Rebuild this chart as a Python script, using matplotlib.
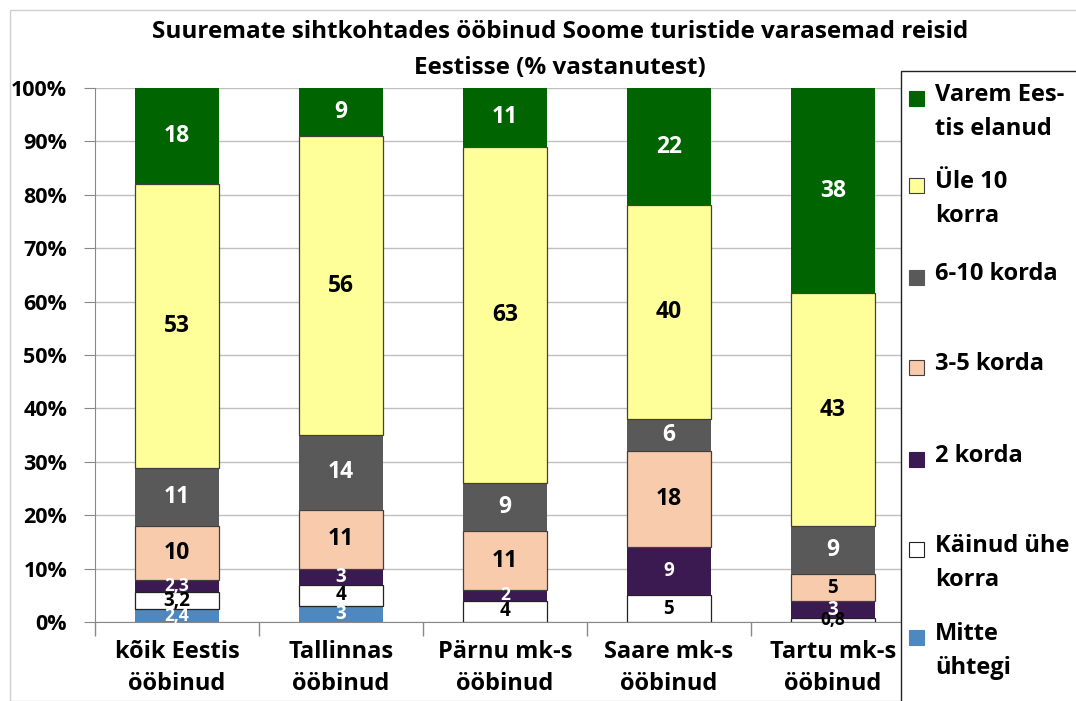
import matplotlib.pyplot as plt
import numpy as np
from matplotlib.patches import Rectangle

plt.rcParams['font.family'] = ['Open Sans', 'DejaVu Sans']
plt.rcParams['font.weight'] = 'bold'

categories = ['kõik Eestis\nööbinud', 'Tallinnas\nööbinud', 'Pärnu mk-s\nööbinud',
              'Saare mk-s\nööbinud', 'Tartu mk-s\nööbinud']

# bottom to top
series = ['Mitte\nühtegi', 'Käinud ühe\nkorra', '2 korda', '3-5 korda',
          '6-10 korda', 'Üle 10\nkorra', 'Varem Ees-\ntis elanud']
mitte = [2.4, 3, 0, 0, 0]
kainud = [3.2, 4, 4, 5, 0.8]
kaks = [2.3, 3, 2, 9, 3]
kolm_viis = [10, 11, 11, 18, 5]
kuus_kumme = [11, 14, 9, 6, 9]
ule_kumne = [53, 56, 63, 40, 43]
varem = [18, 9, 11, 22, 38]

colors = ['#4F88BE', '#FFFFFF', '#3B1A51', '#F8CBAD', '#595959', '#FFFF99', '#006400']
edges = [None, '#222222', None, '#404040', None, '#404040', None]
text_colors = ['white', 'black', 'white', 'black', 'white', 'black', 'white']

data = np.array([mitte, kainud, kaks, kolm_viis, kuus_kumme, ule_kumne, varem], dtype=float)
pct = data / data.sum(axis=0) * 100

W, H = 1076, 701
fig = plt.figure(figsize=(W / 100, H / 100), dpi=100)
ax = fig.add_axes([95 / W, 1 - 622 / H, 820 / W, 534 / H])

x = np.arange(len(categories))
bottom = np.zeros(len(categories))
for i, name in enumerate(series):
    ec = edges[i] if edges[i] else colors[i]
    ax.bar(x, pct[i], 0.51, bottom=bottom, color=colors[i], edgecolor=ec,
           linewidth=0.9 if edges[i] else 0, zorder=3)
    for j in range(len(categories)):
        v = data[i, j]
        if v == 0:
            continue
        if pct[i, j] >= 5.5 and i != 2:
            fs = 16.5
        elif pct[i, j] >= 3:
            fs = 13.5
        else:
            fs = 12.5
        txt = ('%g' % v).replace('.', ',')
        ax.text(x[j], bottom[j] + pct[i, j] / 2, txt, ha='center', va='center',
                color=text_colors[i], fontsize=fs, fontweight='bold', zorder=5)
    bottom += pct[i]

ax.set_xlim(-0.5, len(categories) - 0.5)
ax.set_ylim(0, 100)
ax.set_yticks(np.arange(0, 101, 10))
ax.set_yticklabels(['%d%%' % v for v in range(0, 101, 10)], fontsize=15.5, fontweight='bold')
ax.yaxis.grid(True, color='#BFBFBF', linewidth=1, zorder=0)
ax.set_xticks(x)
ax.set_xticklabels(categories, fontsize=17, fontweight='bold', linespacing=1.45)
ax.tick_params(axis='x', length=0, pad=13)
ax.tick_params(axis='y', length=8, color='#888888', pad=12)
ax.set_xticks(np.arange(-0.5, len(categories), 1), minor=True)
ax.tick_params(axis='x', which='minor', length=10, color='#888888', width=1)
for s in ['top', 'right']:
    ax.spines[s].set_visible(False)
ax.spines['left'].set_color('#888888')
ax.spines['bottom'].set_color('#888888')

fig.text(560 / W, 1 - 32 / H, 'Suuremate sihtkohtades ööbinud Soome turistide varasemad reisid',
         ha='center', va='center', fontsize=17.5, fontweight='bold')
fig.text(560 / W, 1 - 68 / H, 'Eestisse (% vastanutest)',
         ha='center', va='center', fontsize=17.5, fontweight='bold')

# outer chart border
fig.add_artist(Rectangle((10 / W, 0), 1, 1 - 10 / H, transform=fig.transFigure,
                         fill=False, edgecolor='#D0D0D0', linewidth=1))

# legend box
fig.add_artist(Rectangle((901 / W, -0.01), 1, 1 - 71 / H + 0.01, transform=fig.transFigure,
                         facecolor='white', edgecolor='#222222', linewidth=1, zorder=10))
leg_y = [638, 550, 460, 368, 278, 186, 99]
for i, name in enumerate(series):
    yc = leg_y[i]
    fig.add_artist(Rectangle((909 / W, 1 - (yc + 7) / H), 15 / W, 15 / H,
                             transform=fig.transFigure, facecolor=colors[i],
                             edgecolor=edges[i] if edges[i] else colors[i],
                             linewidth=0.8, zorder=11))
    fig.text(935 / W, 1 - (yc - 16) / H, name, ha='left', va='top', fontsize=17,
             fontweight='bold', linespacing=1.55, zorder=12)

fig.savefig('out.png', dpi=100)
